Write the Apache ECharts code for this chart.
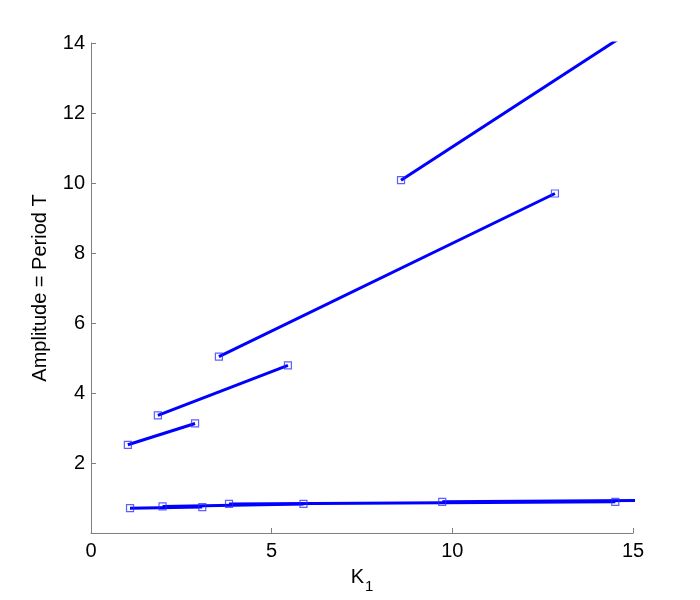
<!DOCTYPE html>
<html>
<head>
<meta charset="utf-8">
<script src="https://cdn.jsdelivr.net/npm/echarts@6/dist/echarts.min.js"></script>
<style>
  html, body { margin: 0; padding: 0; background: #fff; }
  #chart { width: 700px; height: 600px; }
</style>
</head>
<body>
<div id="chart"></div>
<script>
  // segment end points: [x, y]
  const seg1 = [[1.02, 2.52], [2.88, 3.13]]
  const seg2 = [[1.85, 3.36], [5.45, 4.79]]
  const seg3 = [[3.54, 5.04], [12.84, 9.70]]
  const seg4 = [[8.58, 10.08], [15.2, 14.52]]
  const low1 = [[1.08, 0.71], [3.08, 0.74]]
  const low2 = [[1.98, 0.76], [5.88, 0.83]]
  const low3 = [[3.82, 0.83], [14.51, 0.89]]
  const low4 = [[9.72, 0.89], [15.8, 0.93]]
  const segments = [seg1, seg2, seg3, seg4, low1, low2, low3, low4]

  const xTicks = [0, 5, 10, 15]
  const yTicks = [2, 4, 6, 8, 10, 12, 14]

  const font = 'Liberation Sans, Arial, Helvetica, sans-serif'
  const axisGray = '#7f7f7f'

  const chart = echarts.init(document.getElementById('chart'))
  chart.setOption({
    animation: false,
    grid: { left: 91, right: 67, top: 43, bottom: 67 },
    xAxis: {
      type: 'value',
      min: 0,
      max: 15,
      interval: 5,
      name: '{k|K}{s|1}',
      nameLocation: 'middle',
      nameGap: 28,
      nameTextStyle: {
        color: '#000',
        fontFamily: font,
        rich: {
          k: { fontSize: 20, fontFamily: font, color: '#000' },
          s: { fontSize: 15, fontFamily: font, color: '#000', padding: [18, 0, 0, 1] }
        }
      },
      splitLine: { show: false },
      axisLine: { onZero: false, lineStyle: { color: axisGray, width: 1 } },
      axisTick: { inside: true, length: 5, lineStyle: { color: axisGray } },
      axisLabel: {
        color: '#000',
        fontSize: 20,
        fontFamily: font,
        margin: 8,
        formatter: v => xTicks.includes(v) ? String(v) : ''
      }
    },
    yAxis: {
      type: 'value',
      min: 0,
      max: 14,
      interval: 2,
      name: 'Amplitude = Period T',
      nameLocation: 'middle',
      nameGap: 41,
      nameTextStyle: { color: '#000', fontSize: 20, fontFamily: font },
      splitLine: { show: false },
      axisLine: { show: true, onZero: false, lineStyle: { color: axisGray, width: 1 } },
      axisTick: { show: true, inside: true, length: 5, lineStyle: { color: axisGray } },
      axisLabel: {
        color: '#000',
        fontSize: 20,
        fontFamily: font,
        margin: 6,
        formatter: v => yTicks.includes(v) ? String(v) : ''
      }
    },
    series: segments.map(d => ({
      type: 'line',
      data: d,
      clip: true,
      symbol: 'rect',
      symbolSize: 7,
      showAllSymbol: true,
      lineStyle: { color: '#0000ff', width: 3 },
      itemStyle: { color: 'rgba(255,255,255,0)', borderColor: 'rgba(40,40,255,0.75)', borderWidth: 1.2 }
    }))
  })
</script>
</body>
</html>
